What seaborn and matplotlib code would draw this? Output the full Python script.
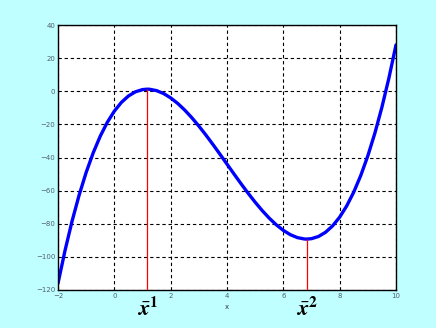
import matplotlib
matplotlib.use("Agg")
import matplotlib.pyplot as plt
import seaborn as sns
import pandas as pd

x_vals = [-2.0, -1.75, -1.5, -1.25, -1.0, -0.75, -0.5, -0.25, 0.0, 0.25, 0.5, 0.75, 1.0,
          1.1716, 1.25, 1.5, 1.75, 2.0, 2.25, 2.5, 2.75, 3.0, 3.25, 3.5, 3.75, 4.0,
          4.25, 4.5, 4.75, 5.0, 5.25, 5.5, 5.75, 6.0, 6.25, 6.5, 6.75, 6.8284, 7.0,
          7.25, 7.5, 7.75, 8.0, 8.25, 8.5, 8.75, 9.0, 9.25, 9.5, 9.75, 10.0]
y_vals = [-116.0, -96.109, -78.375, -62.703, -49.0, -37.172, -27.125, -18.766, -12.0,
          -6.734, -2.875, -0.328, 1.0, 1.255, 1.203, 0.375, -1.391, -4.0, -7.359,
          -11.375, -15.953, -21.0, -26.422, -32.125, -38.016, -44.0, -49.984, -55.875,
          -61.578, -67.0, -72.047, -76.625, -80.641, -84.0, -86.609, -88.375, -89.203,
          -89.26, -89.0, -87.672, -85.125, -81.266, -76.0, -69.234, -60.875, -50.828,
          -39.0, -25.297, -9.625, 8.109, 28.0]
crit_x = [1.1716, 6.8284]
crit_y = [1.255, -89.26]
crit_labels = [r"$\bar{\mathbfit{x}}^{\mathbf{1}}$", r"$\bar{\mathbfit{x}}^{\mathbf{2}}$"]
x_ticks = [-2, 0, 2, 4, 6, 8, 10]
y_ticks = [-120, -100, -80, -60, -40, -20, 0, 20, 40]

sns.set_style("white")
fig = plt.figure(figsize=(4.36, 3.28), dpi=100)
fig.patch.set_facecolor("#C0FFFF")
ax = fig.add_axes([58 / 436, 1 - 290 / 328, 338 / 436, 265 / 328])
ax.set_facecolor("white")

df = pd.DataFrame({"x": x_vals, "y": y_vals})
sns.lineplot(data=df, x="x", y="y", ax=ax, color="#0000FF", linewidth=2.4, sort=False)

for cx, cy in zip(crit_x, crit_y):
    ax.vlines(cx, -120, cy, color="red", linewidth=0.9, zorder=3)

ax.set_xlim(-2, 10)
ax.set_ylim(-120, 40)
ax.set_xticks(x_ticks)
ax.set_yticks(y_ticks)
ax.grid(True, color="black", linestyle=(0, (3, 2.5)), linewidth=0.8)
for s in ax.spines.values():
    s.set_color("black")
    s.set_linewidth(1.0)
    s.set_visible(True)
ax.tick_params(axis="both", labelsize=5, colors="#506070", length=2, direction="in", pad=2)
ax.tick_params(axis="both", color="black")
ax.set_xlabel("x", fontsize=5, color="#303040", labelpad=4)
ax.set_ylabel("")

for cx, lab in zip(crit_x, crit_labels):
    ax.annotate(lab, xy=(cx, 0), xycoords=("data", "axes fraction"),
                xytext=(0, -5), textcoords="offset points", ha="center", va="top",
                fontsize=16, color="black", math_fontfamily="stix")

fig.savefig("out.png", dpi=100, facecolor=fig.get_facecolor())
